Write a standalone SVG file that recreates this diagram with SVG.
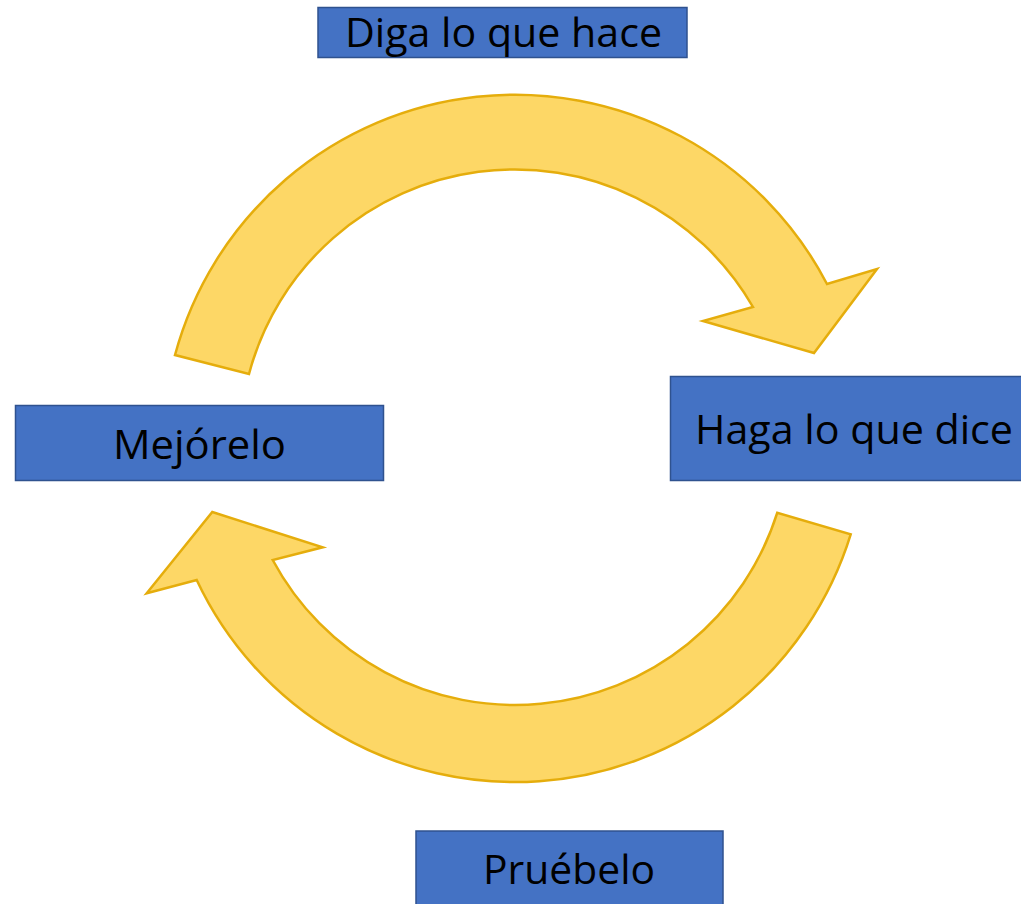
<svg xmlns="http://www.w3.org/2000/svg" width="1021" height="904" viewBox="0 0 1021 904">
<style>
.box{fill:#4472C4;stroke:#2F528F;stroke-width:1.5}
.lbl{font-family:"Open Sans","Noto Sans","Liberation Sans",sans-serif;font-size:40px;fill:#000}
.arr{fill:#FDD766;stroke:#E5AD0C;stroke-width:2.5;stroke-linejoin:miter}
</style>
<rect width="1021" height="904" fill="#fff"/>
<g id="connectors">
<path class="arr" d="M175,355 A352,352 0 0 1 827,284 L877,269 L814,353 L703,321 L753,307 A275,275 0 0 0 249,374 Z"/>
<path class="arr" d="M850.7,534.3 A351.5,351.5 0 0 1 196.7,580 L146.7,593.3 L212.3,512 L322.7,547.3 L272.7,560 A275,275 0 0 0 777.3,512.7 Z"/>
</g>
<g id="node-diga">
<rect class="box" x="318" y="7.5" width="369" height="50"/>
<text class="lbl" x="345" y="47" textLength="317" lengthAdjust="spacingAndGlyphs">Diga lo que hace</text>
</g>
<g id="node-mejorelo">
<rect class="box" x="15.5" y="405.5" width="368" height="75"/>
<text class="lbl" x="113" y="459" textLength="173" lengthAdjust="spacingAndGlyphs">Mejórelo</text>
</g>
<g id="node-haga">
<rect class="box" x="670.5" y="376.5" width="360" height="104"/>
<text class="lbl" x="695" y="444" textLength="318" lengthAdjust="spacingAndGlyphs">Haga lo que dice</text>
</g>
<g id="node-pruebelo">
<rect class="box" x="416" y="831" width="307" height="80"/>
<text class="lbl" x="483" y="884" textLength="172" lengthAdjust="spacingAndGlyphs">Pruébelo</text>
</g>
</svg>
